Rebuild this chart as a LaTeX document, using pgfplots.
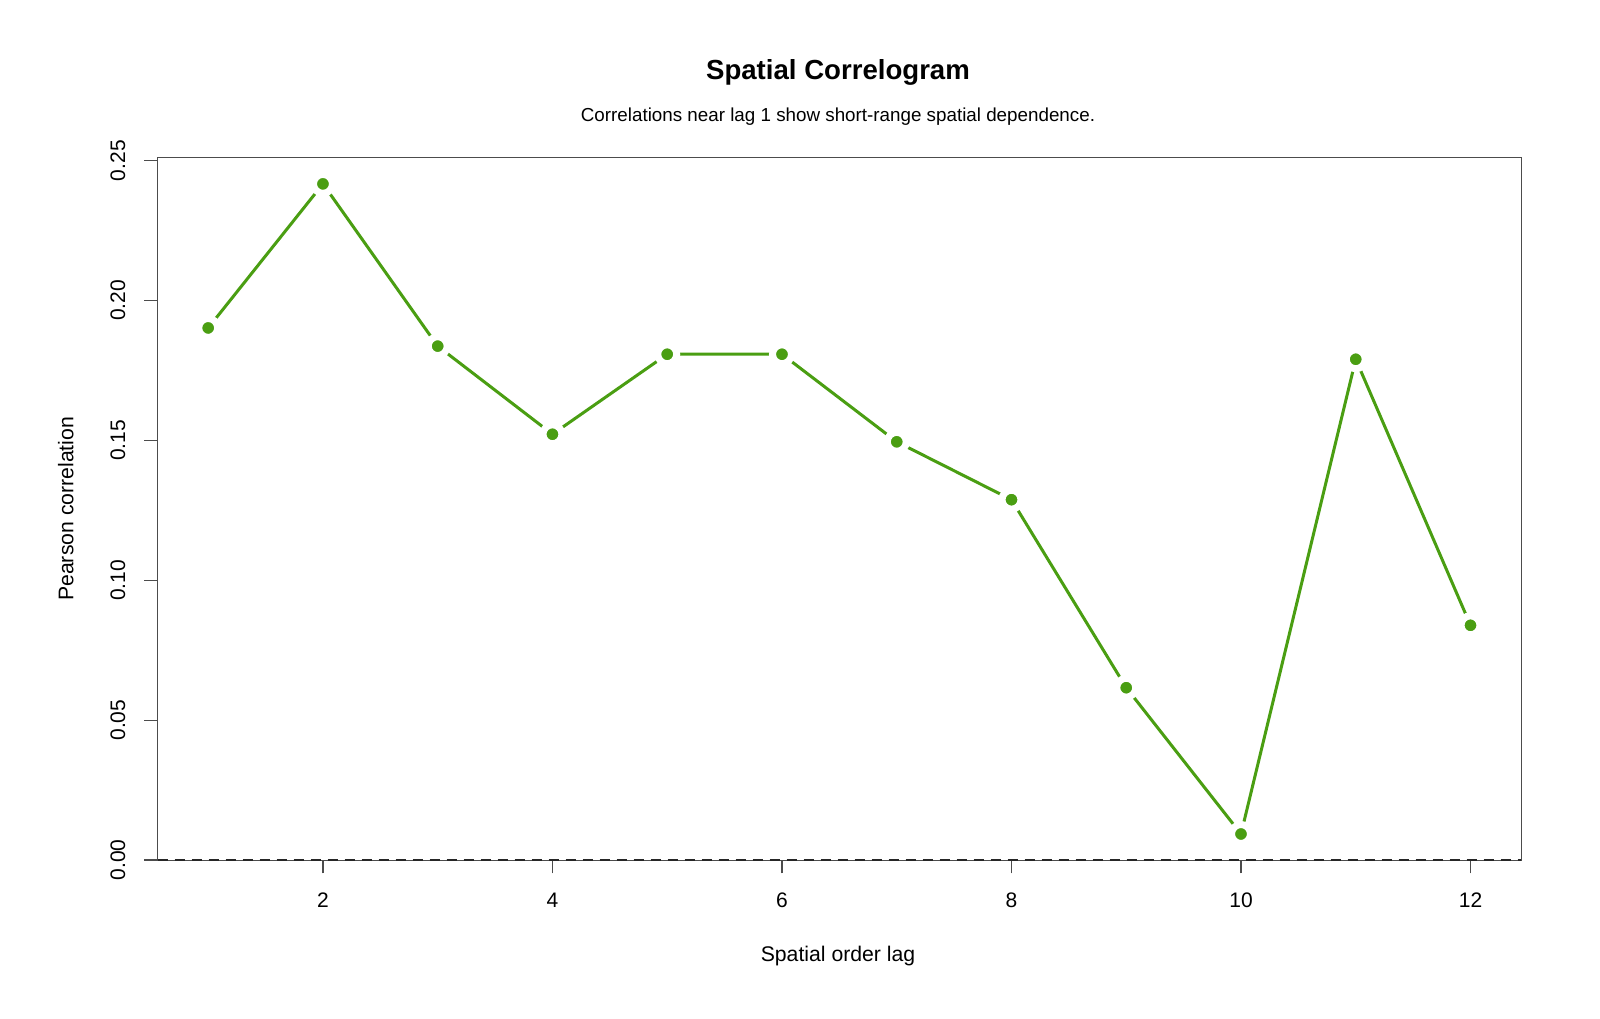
\documentclass[border=0pt]{standalone}
\usepackage{pgfplots}
\pgfplotsset{compat=1.18}
\usepackage{fontspec}
\setmainfont{Liberation Sans}
\definecolor{lg}{HTML}{4A9E12}
\begin{document}
\begin{tikzpicture}
\useasboundingbox (0,0) rectangle (800pt,509pt);
\begin{axis}[
  at={(78.85pt,79pt)}, anchor=south west,
  scale only axis, width=681.65pt, height=351.35pt,
  xmin=0.56, xmax=12.44, ymin=0, ymax=0.2512,
  xtick={2,4,6,8,10,12},
  ytick={0,0.05,0.10,0.15,0.20,0.25},
  xtick pos=bottom, ytick pos=left,
  tick align=outside, major tick length=6.7pt,
  axis line style={black!70, line width=0.5pt},
  every tick/.style={black!70, line width=0.6pt},
  /pgf/number format/assume math mode=true,
  yticklabel={\pgfmathprintnumber[fixed,fixed zerofill,precision=2]{\tick}},
  ticklabel style={font=\fontsize{10.5}{12}\selectfont},
  xticklabel style={anchor=base, inner sep=0pt, yshift=-17pt},
  yticklabel style={anchor=base, inner sep=0pt, xshift=-9.65pt, rotate=90},
  clip=false,
]
\addplot[black!85, line width=1.1pt, dash pattern=on 5pt off 3.5pt] coordinates {(0.56,0) (12.44,0)};
\addplot[lg, line width=1.5pt, mark=*, mark size=4.75pt,
  mark options={solid, fill=lg, draw=white, line width=3.5pt}] coordinates {
  (1,0.1902) (2,0.2417) (3,0.1837) (4,0.1522) (5,0.1808) (6,0.1808)
  (7,0.1495) (8,0.1288) (9,0.0616) (10,0.0093) (11,0.1790) (12,0.0839)
};
\end{axis}
\node[anchor=base, font=\bfseries\fontsize{13.8}{16}\selectfont] at (419pt,469pt) {Spatial Correlogram};
\node[anchor=base, font=\fontsize{9.4}{11}\selectfont] at (419pt,448pt) {Correlations near lag 1 show short-range spatial dependence.};
\node[anchor=base, font=\fontsize{10.6}{12}\selectfont] at (419pt,28.2pt) {Spatial order lag};
\node[anchor=base, rotate=90, font=\fontsize{10.6}{12}\selectfont] at (36.7pt,254.6pt) {Pearson correlation};
\end{tikzpicture}
\end{document}
